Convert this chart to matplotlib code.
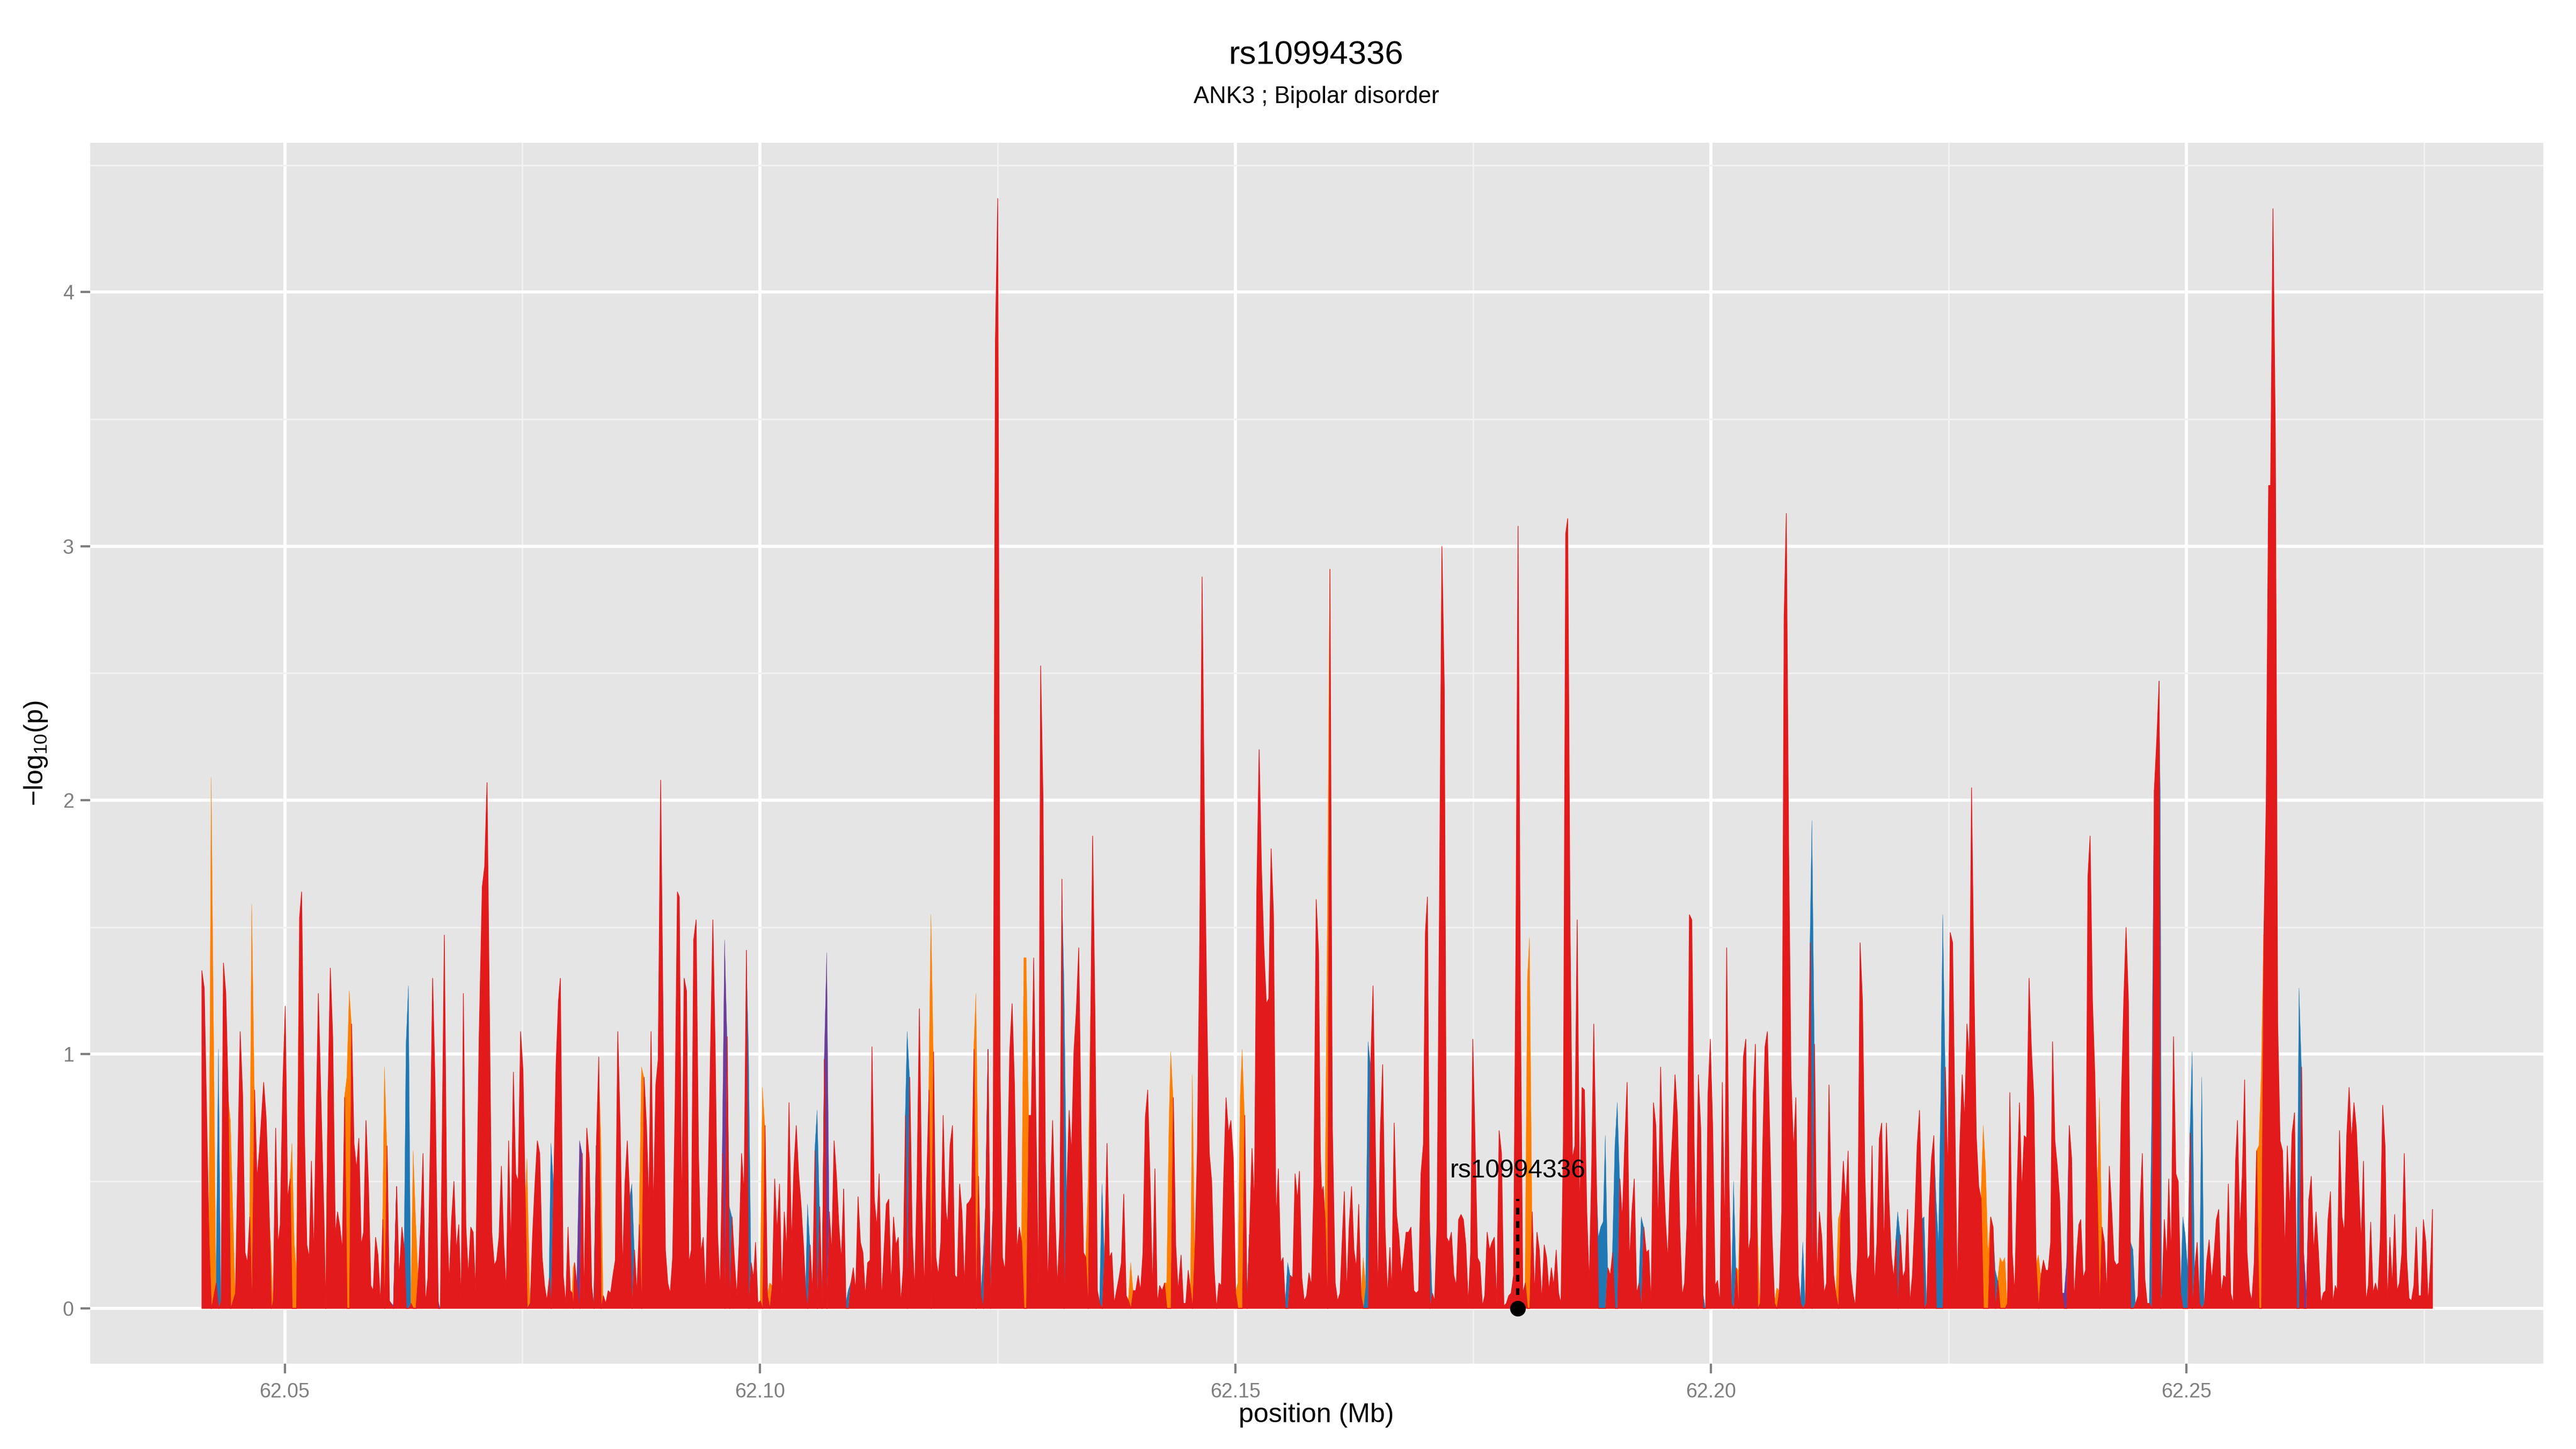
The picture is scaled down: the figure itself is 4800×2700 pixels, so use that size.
import numpy as np
import matplotlib.pyplot as plt

plt.rcParams['font.family'] = ['Liberation Sans', 'DejaVu Sans']
plt.rcParams['mathtext.fontset'] = 'custom'
plt.rcParams['mathtext.rm'] = 'Liberation Sans'

title = "rs10994336"
subtitle = "ANK3 ; Bipolar disorder"
snp_pos = 62.17968
snp_line_top = 0.43
snp_label_y = 0.54

x_ticks = [62.05, 62.10, 62.15, 62.20, 62.25]
x_tick_labels = ["62.05", "62.10", "62.15", "62.20", "62.25"]
y_ticks = [0, 1, 2, 3, 4]

# (position in Mb, -log10 p) for each SNP, split by colour group
red_snps = [
    (62.04126, 1.33), (62.04151, 1.26), (62.04202, 0.26), (62.04277, 0.10), (62.04328, 0.03),
    (62.04353, 1.36), (62.04378, 1.24), (62.04403, 0.84), (62.04479, 0.06), (62.04529, 1.09),
    (62.04555, 0.84), (62.04580, 0.22), (62.04605, 0.18), (62.04630, 0.36), (62.04681, 0.86),
    (62.04706, 0.51), (62.04731, 0.62), (62.04776, 0.89), (62.04802, 0.75), (62.04832, 0.41),
    (62.04877, 0.03), (62.04902, 0.71), (62.04928, 0.25), (62.04950, 0.33), (62.04978, 0.89),
    (62.05003, 1.19), (62.05028, 0.43), (62.05054, 0.51), (62.05154, 1.54), (62.05175, 1.64),
    (62.05205, 0.69), (62.05230, 0.25), (62.05255, 0.20), (62.05278, 0.58), (62.05303, 0.21),
    (62.05351, 1.24), (62.05376, 0.86), (62.05411, 0.35), (62.05454, 0.86), (62.05477, 1.34),
    (62.05502, 1.07), (62.05530, 0.29), (62.05553, 0.38), (62.05578, 0.32), (62.05603, 0.23),
    (62.05628, 0.83), (62.05701, 1.12), (62.05726, 0.65), (62.05752, 0.55), (62.05777, 0.67),
    (62.05802, 0.25), (62.05827, 0.30), (62.05852, 0.74), (62.05878, 0.49), (62.05903, 0.09),
    (62.05928, 0.07), (62.05953, 0.28), (62.05978, 0.21), (62.06004, 0.02), (62.06029, 0.35),
    (62.06074, 0.64), (62.06099, 0.03), (62.06175, 0.48), (62.06200, 0.12), (62.06230, 0.32),
    (62.06256, 0.23), (62.06326, 0.02), (62.06402, 0.13), (62.06427, 0.32), (62.06452, 0.61),
    (62.06477, 0.02), (62.06503, 0.12), (62.06528, 0.64), (62.06553, 1.30), (62.06578, 0.89),
    (62.06634, 0.00), (62.06676, 1.47), (62.06702, 0.38), (62.06727, 0.10), (62.06752, 0.35),
    (62.06777, 0.50), (62.06802, 0.23), (62.06828, 0.33), (62.06853, 0.02), (62.06876, 1.24),
    (62.06903, 0.32), (62.06928, 0.13), (62.06954, 0.32), (62.06979, 0.30), (62.07004, 0.07),
    (62.07042, 1.07), (62.07075, 1.66), (62.07100, 1.74), (62.07125, 2.07), (62.07175, 0.30),
    (62.07201, 0.17), (62.07226, 0.19), (62.07251, 0.28), (62.07276, 0.56), (62.07301, 0.25),
    (62.07327, 0.07), (62.07352, 0.66), (62.07377, 0.23), (62.07402, 0.93), (62.07427, 0.53),
    (62.07453, 0.50), (62.07478, 1.09), (62.07503, 0.94), (62.07528, 0.41), (62.07579, 0.02),
    (62.07604, 0.29), (62.07629, 0.49), (62.07654, 0.66), (62.07679, 0.61), (62.07705, 0.20),
    (62.07730, 0.09), (62.07755, 0.03), (62.07780, 0.12), (62.07826, 0.49), (62.07851, 0.96),
    (62.07876, 1.21), (62.07896, 1.30), (62.07926, 0.13), (62.07952, 0.02), (62.07977, 0.32),
    (62.07988, 0.20), (62.08001, 0.07), (62.08021, 0.06), (62.08046, 0.18), (62.08071, 0.09),
    (62.08127, 0.61), (62.08144, 0.03), (62.08174, 0.71), (62.08200, 0.59), (62.08225, 0.09),
    (62.08275, 0.64), (62.08300, 0.99), (62.08348, 0.05), (62.08374, 0.02), (62.08399, 0.07),
    (62.08424, 0.06), (62.08449, 0.13), (62.08474, 0.19), (62.08500, 1.09), (62.08525, 0.72),
    (62.08550, 0.15), (62.08575, 0.49), (62.08600, 0.66), (62.08626, 0.43), (62.08676, 0.23),
    (62.08701, 0.06), (62.08726, 0.33), (62.08777, 0.91), (62.08802, 0.72), (62.08827, 0.41),
    (62.08850, 1.09), (62.08875, 0.38), (62.08900, 0.88), (62.08925, 0.98), (62.08951, 2.08),
    (62.09001, 0.23), (62.09026, 0.10), (62.09051, 0.06), (62.09077, 0.20), (62.09102, 0.78),
    (62.09127, 1.64), (62.09147, 1.62), (62.09172, 0.35), (62.09198, 1.30), (62.09223, 1.25),
    (62.09248, 0.18), (62.09273, 0.23), (62.09298, 1.45), (62.09324, 1.53), (62.09349, 0.61),
    (62.09374, 0.22), (62.09399, 0.28), (62.09424, 0.05), (62.09450, 0.49), (62.09475, 1.01),
    (62.09500, 1.53), (62.09525, 1.01), (62.09550, 0.29), (62.09576, 0.07), (62.09601, 0.61),
    (62.09651, 1.07), (62.09702, 0.36), (62.09727, 0.19), (62.09752, 0.05), (62.09777, 0.26),
    (62.09802, 0.61), (62.09828, 0.45), (62.09853, 1.41), (62.09903, 0.18), (62.09928, 0.12),
    (62.09949, 0.26), (62.09974, 0.02), (62.09999, 0.03), (62.10049, 0.72), (62.10075, 0.05),
    (62.10125, 0.09), (62.10150, 0.51), (62.10175, 0.30), (62.10201, 0.49), (62.10226, 0.05),
    (62.10251, 0.38), (62.10276, 0.23), (62.10301, 0.81), (62.10327, 0.25), (62.10352, 0.55),
    (62.10377, 0.72), (62.10402, 0.53), (62.10427, 0.41), (62.10453, 0.25), (62.10478, 0.06),
    (62.10523, 0.25), (62.10548, 0.06), (62.10574, 0.62), (62.10624, 0.40), (62.10674, 0.98),
    (62.10725, 0.38), (62.10750, 0.22), (62.10775, 0.66), (62.10800, 0.52), (62.10826, 0.32),
    (62.10851, 0.19), (62.10876, 0.47), (62.10952, 0.10), (62.10977, 0.16), (62.11002, 0.07),
    (62.11027, 0.44), (62.11052, 0.26), (62.11078, 0.22), (62.11103, 0.05), (62.11128, 0.18),
    (62.11153, 0.19), (62.11173, 1.03), (62.11198, 0.43), (62.11224, 0.32), (62.11249, 0.53),
    (62.11274, 0.03), (62.11299, 0.22), (62.11324, 0.41), (62.11350, 0.43), (62.11375, 0.09),
    (62.11400, 0.36), (62.11425, 0.25), (62.11450, 0.28), (62.11476, 0.02), (62.11501, 0.15),
    (62.11526, 0.76), (62.11571, 0.91), (62.11597, 0.29), (62.11622, 0.07), (62.11647, 0.49),
    (62.11672, 1.18), (62.11697, 0.46), (62.11723, 0.07), (62.11748, 0.49), (62.11773, 0.86),
    (62.11821, 1.01), (62.11846, 0.20), (62.11871, 0.13), (62.11897, 0.26), (62.11922, 0.76),
    (62.11939, 0.50), (62.11952, 0.38), (62.11969, 0.33), (62.11994, 0.64), (62.12020, 0.72),
    (62.12045, 0.13), (62.12070, 0.12), (62.12095, 0.49), (62.12120, 0.38), (62.12146, 0.09),
    (62.12171, 0.41), (62.12196, 0.42), (62.12221, 0.44), (62.12246, 1.02), (62.12294, 0.52),
    (62.12320, 0.05), (62.12370, 0.41), (62.12395, 1.02), (62.12446, 0.38), (62.12471, 3.80),
    (62.12496, 4.37), (62.12521, 0.92), (62.12546, 0.20), (62.12572, 0.15), (62.12597, 0.49),
    (62.12622, 1.01), (62.12647, 1.20), (62.12672, 0.88), (62.12698, 0.23), (62.12723, 0.32),
    (62.12748, 0.26), (62.12824, 0.76), (62.12849, 0.76), (62.12874, 1.38), (62.12899, 0.72),
    (62.12924, 0.09), (62.12947, 2.53), (62.12972, 2.01), (62.12997, 0.58), (62.13023, 0.09),
    (62.13048, 0.43), (62.13073, 0.74), (62.13098, 0.38), (62.13123, 0.09), (62.13149, 0.32),
    (62.13171, 1.69), (62.13222, 0.46), (62.13247, 0.78), (62.13272, 0.61), (62.13297, 1.01),
    (62.13322, 1.17), (62.13348, 1.42), (62.13373, 0.69), (62.13398, 0.22), (62.13423, 0.20),
    (62.13474, 1.15), (62.13494, 1.86), (62.13519, 1.15), (62.13544, 0.07), (62.13569, 0.02),
    (62.13620, 0.20), (62.13645, 0.65), (62.13670, 0.20), (62.13695, 0.22), (62.13721, 0.02),
    (62.13746, 0.07), (62.13771, 0.12), (62.13796, 0.18), (62.13821, 0.45), (62.13847, 0.05),
    (62.13872, 0.03), (62.13922, 0.07), (62.13947, 0.07), (62.13973, 0.13), (62.13998, 0.07),
    (62.14023, 0.22), (62.14048, 0.75), (62.14073, 0.86), (62.14099, 0.49), (62.14124, 0.07),
    (62.14149, 0.55), (62.14174, 0.02), (62.14199, 0.09), (62.14225, 0.07), (62.14250, 0.10),
    (62.14343, 0.83), (62.14368, 0.25), (62.14393, 0.07), (62.14424, 0.21), (62.14449, 0.02),
    (62.14474, 0.02), (62.14499, 0.15), (62.14525, 0.07), (62.14570, 0.23), (62.14595, 0.62),
    (62.14620, 1.44), (62.14645, 2.88), (62.14671, 1.87), (62.14696, 1.15), (62.14721, 0.61),
    (62.14746, 0.50), (62.14771, 0.16), (62.14797, 0.00), (62.14822, 0.10), (62.14847, 0.09),
    (62.14872, 0.51), (62.14897, 0.83), (62.14923, 0.69), (62.14948, 0.74), (62.14973, 0.59),
    (62.14998, 0.06), (62.15094, 0.76), (62.15144, 0.29), (62.15170, 0.63), (62.15195, 0.41),
    (62.15220, 1.64), (62.15245, 2.20), (62.15270, 1.73), (62.15296, 1.41), (62.15321, 1.20),
    (62.15346, 1.22), (62.15371, 1.81), (62.15396, 1.55), (62.15422, 0.35), (62.15447, 0.55),
    (62.15472, 0.18), (62.15497, 0.20), (62.15573, 0.13), (62.15598, 0.12), (62.15623, 0.53),
    (62.15648, 0.43), (62.15669, 0.54), (62.15694, 0.12), (62.15719, 0.03), (62.15744, 0.05),
    (62.15769, 0.14), (62.15795, 0.09), (62.15820, 0.48), (62.15845, 1.61), (62.15870, 1.40),
    (62.15889, 0.61), (62.15902, 0.46), (62.15919, 0.48), (62.15939, 0.35), (62.15990, 2.91),
    (62.16015, 0.72), (62.16045, 0.10), (62.16070, 0.03), (62.16096, 0.06), (62.16121, 0.29),
    (62.16141, 0.46), (62.16166, 0.06), (62.16191, 0.32), (62.16217, 0.48), (62.16242, 0.23),
    (62.16267, 0.16), (62.16292, 0.41), (62.16317, 0.05), (62.16418, 0.96), (62.16443, 1.27),
    (62.16469, 0.61), (62.16494, 0.06), (62.16519, 0.69), (62.16544, 0.96), (62.16569, 0.32),
    (62.16595, 0.05), (62.16620, 0.24), (62.16640, 0.06), (62.16665, 0.73), (62.16690, 0.37),
    (62.16716, 0.28), (62.16741, 0.13), (62.16766, 0.21), (62.16791, 0.30), (62.16816, 0.30),
    (62.16842, 0.32), (62.16872, 0.07), (62.16897, 0.06), (62.16922, 0.07), (62.16947, 0.53),
    (62.16973, 0.65), (62.16993, 1.48), (62.17015, 1.62), (62.17066, 0.06), (62.17091, 0.03),
    (62.17116, 0.33), (62.17141, 1.58), (62.17167, 3.00), (62.17192, 2.45), (62.17217, 0.28),
    (62.17242, 0.26), (62.17267, 0.30), (62.17293, 0.13), (62.17318, 0.09), (62.17343, 0.35),
    (62.17368, 0.37), (62.17393, 0.35), (62.17419, 0.25), (62.17444, 0.02), (62.17469, 0.22),
    (62.17492, 1.06), (62.17517, 0.64), (62.17542, 0.20), (62.17567, 0.18), (62.17593, 0.01),
    (62.17618, 0.05), (62.17643, 0.30), (62.17668, 0.23), (62.17693, 0.26), (62.17719, 0.28),
    (62.17744, 0.02), (62.17769, 0.70), (62.17794, 0.61), (62.17819, 0.01), (62.17845, 0.02),
    (62.17870, 0.05), (62.17895, 0.06), (62.17920, 0.13), (62.17945, 1.41), (62.17968, 3.08),
    (62.17993, 1.21), (62.18018, 0.06), (62.18044, 0.10), (62.18117, 0.38), (62.18142, 0.06),
    (62.18167, 0.30), (62.18192, 0.23), (62.18217, 0.03), (62.18243, 0.25), (62.18268, 0.20),
    (62.18293, 0.07), (62.18318, 0.16), (62.18343, 0.09), (62.18369, 0.23), (62.18394, 0.06),
    (62.18419, 0.02), (62.18444, 0.65), (62.18469, 3.05), (62.18490, 3.11), (62.18515, 1.50),
    (62.18540, 0.59), (62.18565, 0.64), (62.18590, 1.53), (62.18616, 0.36), (62.18641, 0.87),
    (62.18666, 0.86), (62.18691, 0.38), (62.18716, 0.10), (62.18742, 0.55), (62.18764, 1.12),
    (62.18790, 0.55), (62.18913, 0.16), (62.18938, 0.13), (62.18963, 0.22), (62.19039, 0.51),
    (62.19064, 0.35), (62.19089, 0.64), (62.19115, 0.89), (62.19140, 0.18), (62.19165, 0.38),
    (62.19190, 0.51), (62.19215, 0.06), (62.19241, 0.10), (62.19291, 0.32), (62.19316, 0.22),
    (62.19341, 0.23), (62.19367, 0.02), (62.19392, 0.81), (62.19417, 0.72), (62.19442, 0.32),
    (62.19467, 0.95), (62.19493, 0.58), (62.19518, 0.35), (62.19543, 0.19), (62.19568, 0.51),
    (62.19593, 0.69), (62.19619, 0.92), (62.19644, 0.76), (62.19669, 0.32), (62.19694, 0.05),
    (62.19719, 0.10), (62.19745, 0.34), (62.19770, 1.55), (62.19795, 1.53), (62.19820, 0.64),
    (62.19839, 0.23), (62.19864, 0.92), (62.19889, 0.71), (62.19940, 0.00), (62.19965, 0.84),
    (62.19990, 1.06), (62.20015, 0.71), (62.20041, 0.09), (62.20066, 0.11), (62.20091, 0.02),
    (62.20116, 0.89), (62.20141, 0.28), (62.20162, 1.42), (62.20187, 0.49), (62.20212, 0.02),
    (62.20262, 0.16), (62.20313, 0.55), (62.20338, 0.99), (62.20363, 1.06), (62.20388, 0.22),
    (62.20414, 0.28), (62.20439, 0.84), (62.20464, 1.04), (62.20514, 0.02), (62.20540, 0.62),
    (62.20565, 1.03), (62.20590, 1.09), (62.20615, 0.69), (62.20640, 0.28), (62.20666, 0.02),
    (62.20716, 0.07), (62.20741, 0.38), (62.20766, 2.72), (62.20789, 3.13), (62.20814, 1.81),
    (62.20839, 0.91), (62.20865, 0.62), (62.20890, 0.83), (62.20915, 0.13), (62.20940, 0.02),
    (62.20991, 0.02), (62.21016, 0.75), (62.21041, 1.44), (62.21086, 1.04), (62.21112, 0.12),
    (62.21137, 0.38), (62.21162, 0.28), (62.21187, 0.06), (62.21212, 0.10), (62.21238, 0.88),
    (62.21263, 0.38), (62.21288, 0.13), (62.21313, 0.05), (62.21364, 0.39), (62.21389, 0.58),
    (62.21414, 0.41), (62.21439, 0.62), (62.21464, 0.15), (62.21490, 0.06), (62.21515, 0.01),
    (62.21540, 0.22), (62.21565, 1.44), (62.21590, 1.21), (62.21616, 0.52), (62.21641, 0.19),
    (62.21666, 0.21), (62.21691, 0.64), (62.21716, 0.09), (62.21742, 0.26), (62.21767, 0.67),
    (62.21792, 0.73), (62.21817, 0.23), (62.21842, 0.73), (62.21868, 0.43), (62.21893, 0.21),
    (62.21918, 0.12), (62.21943, 0.27), (62.21989, 0.29), (62.22014, 0.12), (62.22039, 0.15),
    (62.22064, 0.39), (62.22089, 0.02), (62.22115, 0.13), (62.22140, 0.35), (62.22165, 0.64),
    (62.22190, 0.78), (62.22215, 0.35), (62.22266, 0.02), (62.22291, 0.39), (62.22316, 0.59),
    (62.22341, 0.68), (62.22462, 0.95), (62.22488, 0.52), (62.22513, 1.48), (62.22538, 1.44),
    (62.22563, 0.72), (62.22588, 0.06), (62.22614, 0.64), (62.22639, 0.92), (62.22664, 0.74),
    (62.22689, 1.12), (62.22714, 0.97), (62.22737, 2.05), (62.22762, 1.30), (62.22787, 0.68),
    (62.22813, 0.48), (62.22838, 0.43), (62.22939, 0.36), (62.22964, 0.32), (62.23014, 0.11),
    (62.23115, 0.02), (62.23140, 0.85), (62.23165, 0.22), (62.23191, 0.06), (62.23216, 0.48),
    (62.23241, 0.81), (62.23266, 0.46), (62.23291, 0.68), (62.23317, 0.67), (62.23342, 1.30),
    (62.23367, 1.02), (62.23392, 0.83), (62.23417, 0.17), (62.23468, 0.13), (62.23493, 0.19),
    (62.23518, 0.15), (62.23543, 0.15), (62.23569, 0.26), (62.23589, 1.05), (62.23614, 0.66),
    (62.23639, 0.56), (62.23664, 0.43), (62.23690, 0.06), (62.23765, 0.72), (62.23790, 0.59),
    (62.23815, 0.03), (62.23840, 0.20), (62.23866, 0.33), (62.23886, 0.35), (62.23911, 0.12),
    (62.23936, 0.15), (62.23961, 1.70), (62.23984, 1.86), (62.24009, 1.21), (62.24034, 0.92),
    (62.24060, 0.43), (62.24110, 0.32), (62.24135, 0.26), (62.24160, 0.06), (62.24186, 0.56),
    (62.24211, 0.39), (62.24236, 0.19), (62.24261, 0.17), (62.24286, 0.18), (62.24312, 0.81),
    (62.24337, 1.20), (62.24362, 1.50), (62.24387, 1.21), (62.24463, 0.02), (62.24488, 0.05),
    (62.24513, 0.43), (62.24533, 0.61), (62.24559, 0.12), (62.24584, 0.02), (62.24609, 0.02),
    (62.24659, 2.04), (62.24685, 2.24), (62.24710, 2.47), (62.24740, 0.06), (62.24765, 0.35),
    (62.24790, 0.19), (62.24811, 0.51), (62.24836, 0.20), (62.24861, 1.07), (62.24886, 0.53),
    (62.24911, 0.50), (62.24937, 0.06), (62.25037, 0.69), (62.25085, 0.16), (62.25110, 0.26),
    (62.25136, 0.02), (62.25186, 0.02), (62.25211, 0.19), (62.25236, 0.27), (62.25262, 0.11),
    (62.25287, 0.21), (62.25312, 0.35), (62.25337, 0.39), (62.25362, 0.06), (62.25388, 0.13),
    (62.25413, 0.12), (62.25438, 0.49), (62.25463, 0.06), (62.25488, 0.02), (62.25514, 0.58),
    (62.25534, 0.74), (62.25559, 0.30), (62.25584, 0.52), (62.25609, 0.90), (62.25634, 0.22),
    (62.25660, 0.07), (62.25685, 0.03), (62.25710, 0.18), (62.25735, 0.62), (62.25811, 1.47),
    (62.25836, 1.99), (62.25861, 3.24), (62.25882, 3.24), (62.25907, 4.33), (62.25932, 3.45),
    (62.25957, 1.12), (62.25982, 0.66), (62.26008, 0.62), (62.26033, 0.22), (62.26058, 0.64),
    (62.26083, 0.38), (62.26108, 0.69), (62.26134, 0.77), (62.26209, 0.95), (62.26285, 0.43),
    (62.26310, 0.52), (62.26335, 0.22), (62.26360, 0.38), (62.26386, 0.22), (62.26411, 0.02),
    (62.26436, 0.06), (62.26461, 0.07), (62.26486, 0.35), (62.26512, 0.46), (62.26537, 0.02),
    (62.26562, 0.09), (62.26582, 0.07), (62.26607, 0.70), (62.26633, 0.36), (62.26658, 0.30),
    (62.26683, 0.68), (62.26708, 0.87), (62.26733, 0.66), (62.26759, 0.81), (62.26784, 0.71),
    (62.26809, 0.49), (62.26834, 0.26), (62.26859, 0.58), (62.26885, 0.03), (62.26910, 0.09),
    (62.26935, 0.34), (62.26960, 0.06), (62.26985, 0.10), (62.27011, 0.06), (62.27036, 0.28),
    (62.27061, 0.80), (62.27086, 0.64), (62.27111, 0.02), (62.27137, 0.28), (62.27162, 0.09),
    (62.27187, 0.37), (62.27212, 0.07), (62.27237, 0.10), (62.27263, 0.22), (62.27288, 0.61),
    (62.27313, 0.20), (62.27338, 0.04), (62.27363, 0.03), (62.27389, 0.09), (62.27414, 0.32),
    (62.27439, 0.05), (62.27464, 0.05), (62.27489, 0.35), (62.27515, 0.26), (62.27540, 0.02),
    (62.27565, 0.18), (62.27585, 0.39),
]

blue_snps = [
    (62.04303, 1.02), (62.06276, 1.04), (62.06301, 1.27), (62.07800, 0.65), (62.08250, 0.02),
    (62.08651, 0.49), (62.09676, 0.40), (62.09878, 1.01), (62.10498, 0.41), (62.10599, 0.78),
    (62.10649, 0.02), (62.10901, 0.02), (62.10926, 0.07), (62.11546, 1.09), (62.12345, 0.20),
    (62.12420, 0.12), (62.13196, 1.27), (62.13595, 0.49), (62.15119, 0.02), (62.15522, 0.02),
    (62.15548, 0.18), (62.16368, 0.09), (62.16393, 1.05), (62.17041, 0.35), (62.18815, 0.28),
    (62.18840, 0.32), (62.18865, 0.34), (62.18888, 0.68), (62.18989, 0.64), (62.19014, 0.81),
    (62.19266, 0.36), (62.19915, 0.06), (62.20237, 0.50), (62.20965, 0.26), (62.21061, 1.92),
    (62.21963, 0.38), (62.22241, 0.36), (62.22367, 0.43), (62.22392, 0.26), (62.22417, 0.86),
    (62.22437, 1.55), (62.22989, 0.15), (62.24412, 0.26), (62.24438, 0.23), (62.24634, 0.75),
    (62.24725, 2.01), (62.24962, 0.36), (62.24987, 0.29), (62.25012, 0.16), (62.25060, 1.01),
    (62.25161, 0.91), (62.26159, 0.03), (62.26184, 1.26),
]

purple_snps = [
    (62.06142, 0.01), (62.06613, 0.03), (62.08101, 0.66), (62.09626, 1.45), (62.10700, 1.40),
    (62.23715, 0.06), (62.23740, 0.18), (62.26234, 0.22), (62.26260, 0.06),
]

orange_snps = [
    (62.04227, 2.09), (62.04429, 0.74), (62.04653, 1.59), (62.04857, 0.22), (62.05076, 0.65),
    (62.05101, 0.26), (62.05122, 0.15), (62.05429, 0.02), (62.05653, 0.91), (62.05679, 1.25),
    (62.06049, 0.95), (62.06351, 0.62), (62.06377, 0.35), (62.07548, 0.59), (62.08033, 0.16),
    (62.08326, 0.66), (62.08752, 0.95), (62.10024, 0.87), (62.10100, 0.10), (62.11796, 1.55),
    (62.12269, 1.24), (62.12773, 1.38), (62.12798, 1.38), (62.13448, 0.49), (62.13897, 0.18),
    (62.14275, 0.10), (62.14300, 0.74), (62.14318, 1.01), (62.14545, 0.92), (62.15023, 0.10),
    (62.15049, 0.84), (62.15069, 1.02), (62.15965, 1.55), (62.16343, 0.20), (62.18069, 1.30),
    (62.18091, 1.46), (62.20288, 0.15), (62.20489, 0.32), (62.20691, 0.08), (62.21338, 0.35),
    (62.22863, 0.72), (62.22888, 0.55), (62.22913, 0.22), (62.23039, 0.20), (62.23065, 0.18),
    (62.23090, 0.20), (62.23443, 0.21), (62.24085, 0.83), (62.25761, 0.64), (62.25786, 0.92),
]

series = [
    (red_snps, "#E31A1C"),
    (blue_snps, "#1F78B4"),
    (purple_snps, "#6A3D9A"),
    (orange_snps, "#FF7F00"),
]

# merge all SNPs on one position axis, keep group index
pos = np.concatenate([[p for p, _ in s] for s, _ in series])
val = np.concatenate([[v for _, v in s] for s, _ in series])
grp = np.concatenate([np.full(len(s), i) for i, (s, _) in enumerate(series)])
order = np.argsort(pos, kind="stable")
pos, val, grp = pos[order], val[order], grp[order]

fig = plt.figure(figsize=(16, 9), dpi=300)
ax = fig.add_axes([0.035, 0.0589, 0.9522, 0.8426])
ax.set_facecolor("#E5E5E5")
for s in ax.spines.values():
    s.set_visible(False)

# stacked areas, one group per colour (like geom_area)
base = np.zeros_like(val)
for i, (_, color) in enumerate(series):
    is_g = grp == i
    y = np.where(is_g, val, 0.0)
    if i == 0:
        ax.fill_between(pos, 0, y, facecolor=color, edgecolor=color, lw=0.3, zorder=6)
    else:
        near = is_g.copy()
        near[1:] |= is_g[:-1]
        near[:-1] |= is_g[1:]
        ax.fill_between(pos, base, base + y, where=near, facecolor=color,
                        edgecolor=color, lw=0.1, zorder=2 + i)
    base = base + y

# highlighted SNP
ax.plot([snp_pos, snp_pos], [0, snp_line_top], color="black", lw=1.5,
        ls=(0, (2, 2)), zorder=10)
ax.plot(snp_pos, 0, "o", color="black", ms=6, zorder=11)
ax.text(snp_pos, snp_label_y, title, ha="center", va="center", fontsize=11.5,
        color="black", zorder=12)

ax.set_xlim(62.02954, 62.2875)
ax.set_ylim(-0.2185, 4.5885)
ax.set_xticks(x_ticks)
ax.set_xticklabels(x_tick_labels)
ax.set_xticks([62.075, 62.125, 62.175, 62.225, 62.275], minor=True)
ax.set_yticks(y_ticks)
ax.set_yticks([0.5, 1.5, 2.5, 3.5, 4.5], minor=True)
ax.grid(which="major", color="white", lw=1.4, zorder=0)
ax.grid(which="minor", color="#F2F2F2", lw=0.7, zorder=0)
ax.set_axisbelow(True)
ax.tick_params(which="major", length=4.3, width=1.0, color="#7F7F7F",
               labelcolor="#7F7F7F", labelsize=9)
ax.tick_params(axis="x", which="major", pad=4)
ax.tick_params(axis="y", which="major", pad=3)
ax.tick_params(which="minor", length=0)

fig.text(0.511, 0.9615, title, ha="center", va="center", fontsize=14.8)
fig.text(0.511, 0.933, subtitle, ha="center", va="center", fontsize=10.5)
fig.text(0.511, 0.0235, "position (Mb)", ha="center", va="center", fontsize=12)
fig.text(0.014, 0.48, r"$\mathrm{-log_{10}(p)}$", ha="center", va="center",
         rotation=90, fontsize=12)

fig.savefig("out.png", dpi=300)
